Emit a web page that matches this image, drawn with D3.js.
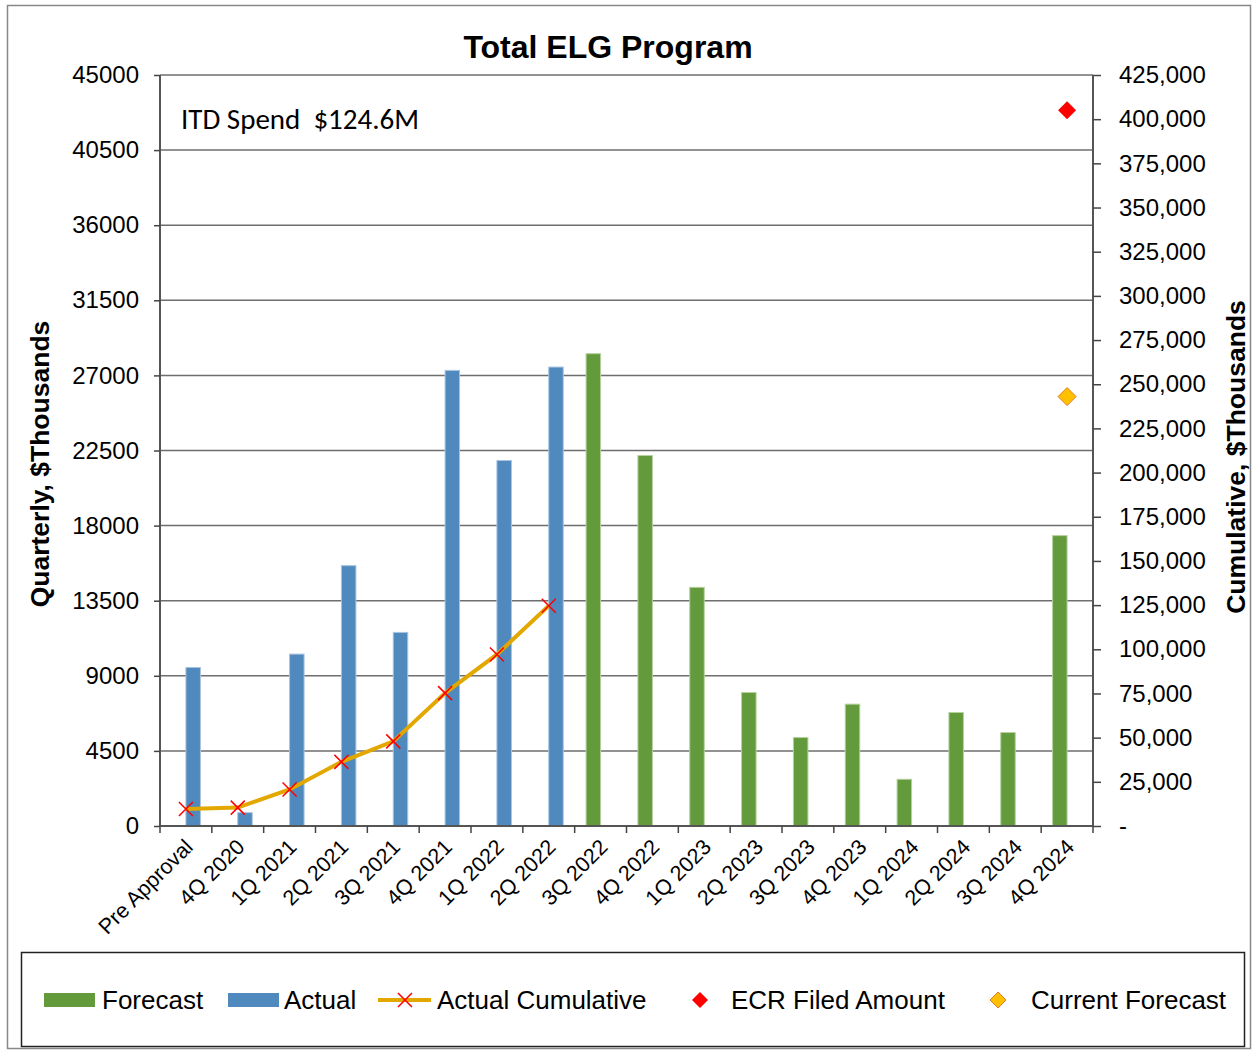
<!DOCTYPE html>
<html>
<head>
<meta charset="utf-8">
<script src="https://cdn.jsdelivr.net/npm/d3@7"></script>
<style>
  body { margin: 0; background: #fff; }
  text { font-family: Arial, "Liberation Sans", sans-serif; fill: #000; }
</style>
</head>
<body>
<script>
var width = 1252,
    height = 1050;

var categories = ['Pre Approval', '4Q 2020', '1Q 2021', '2Q 2021', '3Q 2021', '4Q 2021',
    '1Q 2022', '2Q 2022', '3Q 2022', '4Q 2022', '1Q 2023', '2Q 2023', '3Q 2023',
    '4Q 2023', '1Q 2024', '2Q 2024', '3Q 2024', '4Q 2024'];

// quarterly, $Thousands (null = no bar)
var actual = [9500, 800, 10300, 15600, 11600, 27300, 21900, 27500,
    null, null, null, null, null, null, null, null, null, null];
var forecast = [null, null, null, null, null, null, null, null,
    28300, 22200, 14300, 8000, 5300, 7300, 2800, 6800, 5600, 17400];

// cumulative, $Thousands
var actualCumulative = [9600, 10400, 20700, 36300, 47900, 75200, 97100, 124600];
var ecrFiled = [{ cat: '4Q 2024', value: 405000 }];
var currentForecast = [{ cat: '4Q 2024', value: 243000 }];

var leftTicks = [0, 4500, 9000, 13500, 18000, 22500, 27000, 31500, 36000, 40500, 45000];
var rightTicks = d3.range(0, 425001, 25000);

var plot = { left: 160, right: 1093, top: 75, bottom: 826 };

var svg = d3.select('body')
    .append('svg')
    .attr('width', width)
    .attr('height', height);

// outer frame
svg.append('rect')
    .attr('x', 7.5).attr('y', 5.5)
    .attr('width', 1243).attr('height', 1043)
    .attr('fill', 'none').attr('stroke', '#888').attr('stroke-width', 1.5);

var x = d3.scaleBand()
    .domain(categories)
    .range([plot.left, plot.right])
    .padding(0);

var yLeft = d3.scaleLinear().domain([0, 45000]).range([plot.bottom, plot.top]);
var yRight = d3.scaleLinear().domain([0, 425000]).range([plot.bottom, plot.top]);

// gridlines
svg.append('g')
    .selectAll('line')
    .data(leftTicks.slice(1))
    .enter()
    .append('line')
    .attr('x1', plot.left).attr('x2', plot.right)
    .attr('y1', function (d) { return yLeft(d); })
    .attr('y2', function (d) { return yLeft(d); })
    .attr('stroke', '#6e6e6e').attr('stroke-width', 1.5);

var barW = 14.5;

// forecast bars (left of centre)
svg.append('g')
    .selectAll('rect')
    .data(categories.map(function (c, i) { return { cat: c, v: forecast[i] }; })
        .filter(function (d) { return d.v != null; }))
    .enter()
    .append('rect')
    .attr('x', function (d) { return x(d.cat) + x.bandwidth() / 2 - barW; })
    .attr('y', function (d) { return yLeft(d.v); })
    .attr('width', barW)
    .attr('height', function (d) { return yLeft(0) - yLeft(d.v); })
    .attr('fill', '#629a3c')
    .attr('stroke', '#b5d19e').attr('stroke-width', 1);

// actual bars (right of centre)
svg.append('g')
    .selectAll('rect')
    .data(categories.map(function (c, i) { return { cat: c, v: actual[i] }; })
        .filter(function (d) { return d.v != null; }))
    .enter()
    .append('rect')
    .attr('x', function (d) { return x(d.cat) + x.bandwidth() / 2; })
    .attr('y', function (d) { return yLeft(d.v); })
    .attr('width', barW)
    .attr('height', function (d) { return yLeft(0) - yLeft(d.v); })
    .attr('fill', '#4f89be')
    .attr('stroke', '#a9c4e0').attr('stroke-width', 1);

// axes
var leftAxis = svg.append('g')
    .attr('transform', 'translate(' + plot.left + ',0)')
    .call(d3.axisLeft(yLeft).tickValues(leftTicks).tickSize(6).tickPadding(15)
        .tickFormat(d3.format('d')));
var rightAxis = svg.append('g')
    .attr('transform', 'translate(' + plot.right + ',0)')
    .call(d3.axisRight(yRight).tickValues(rightTicks).tickSize(8).tickPadding(18)
        .tickFormat(function (d) { return d === 0 ? '-' : d3.format(',')(d); }));
var bottomAxis = svg.append('g')
    .attr('transform', 'translate(0,' + plot.bottom + ')')
    .call(d3.axisBottom(x).tickSize(0).tickFormat(''));

[leftAxis, rightAxis, bottomAxis].forEach(function (g) {
    g.select('.domain').attr('stroke', '#555').attr('stroke-width', 2);
    g.selectAll('.tick line').attr('stroke', '#444').attr('stroke-width', 1.5);
    g.selectAll('.tick text')
        .style('font-family', 'Arial, "Liberation Sans", sans-serif')
        .style('font-size', '24px').attr('fill', '#000');
});
leftAxis.select('.domain').attr('d', 'M0,' + plot.top + 'V' + plot.bottom);
rightAxis.select('.domain').attr('d', 'M0,' + plot.top + 'V' + plot.bottom);
bottomAxis.select('.domain').attr('d', 'M' + plot.left + ',0H' + plot.right);

// category boundary ticks
bottomAxis.selectAll('.bound')
    .data(categories.concat(['end']))
    .enter()
    .append('line')
    .attr('x1', function (d, i) { return plot.left + i * x.bandwidth(); })
    .attr('x2', function (d, i) { return plot.left + i * x.bandwidth(); })
    .attr('y1', 0).attr('y2', 7)
    .attr('stroke', '#444').attr('stroke-width', 1.5);

// category labels
svg.append('g')
    .selectAll('text')
    .data(categories)
    .enter()
    .append('text')
    .attr('transform', function (d) {
        return 'translate(' + (x(d) + x.bandwidth() / 2 + 3) + ',' + (plot.bottom + 17) + ') rotate(-45)';
    })
    .attr('text-anchor', 'end')
    .attr('dy', '0.35em')
    .style('font-size', '21.5px')
    .text(function (d) { return d; });

// cumulative line
var lineData = actualCumulative.map(function (v, i) { return { cat: categories[i], v: v }; });
svg.append('path')
    .datum(lineData)
    .attr('fill', 'none')
    .attr('stroke', '#e3a800')
    .attr('stroke-width', 4)
    .attr('d', d3.line()
        .x(function (d) { return x(d.cat) + x.bandwidth() / 2; })
        .y(function (d) { return yRight(d.v); }));

var xMark = 'M-7,-7L7,7M-7,7L7,-7';
svg.append('g')
    .selectAll('path')
    .data(lineData)
    .enter()
    .append('path')
    .attr('transform', function (d) {
        return 'translate(' + (x(d.cat) + x.bandwidth() / 2) + ',' + yRight(d.v) + ')';
    })
    .attr('d', xMark)
    .attr('stroke', '#ff0000').attr('stroke-width', 1.5).attr('fill', 'none');

// diamonds
function diamondPath(s) {
    return 'M0,-' + s + 'L' + s + ',0L0,' + s + 'L-' + s + ',0Z';
}
svg.append('g')
    .selectAll('path')
    .data(ecrFiled)
    .enter()
    .append('path')
    .attr('transform', function (d) {
        return 'translate(' + (x(d.cat) + x.bandwidth() / 2) + ',' + yRight(d.value) + ')';
    })
    .attr('d', diamondPath(9))
    .attr('fill', '#ff0000');
svg.append('g')
    .selectAll('path')
    .data(currentForecast)
    .enter()
    .append('path')
    .attr('transform', function (d) {
        return 'translate(' + (x(d.cat) + x.bandwidth() / 2) + ',' + yRight(d.value) + ')';
    })
    .attr('d', diamondPath(9))
    .attr('fill', '#ffc000').attr('stroke', '#e07a1f').attr('stroke-width', 1);

// title and labels
svg.append('text')
    .attr('x', 608).attr('y', 58)
    .attr('text-anchor', 'middle')
    .style('font-size', '32px').style('font-weight', 'bold')
    .text('Total ELG Program');

svg.append('text')
    .attr('x', 181).attr('y', 129)
    .style('font-family', 'Carlito, Lato, "Open Sans", sans-serif')
    .style('font-size', '29px')
    .attr('xml:space', 'preserve')
    .text('ITD Spend  $124.6M');

svg.append('text')
    .attr('transform', 'translate(49,464) rotate(-90)')
    .attr('text-anchor', 'middle')
    .style('font-size', '26.5px').style('font-weight', 'bold')
    .text('Quarterly, $Thousands');

svg.append('text')
    .attr('transform', 'translate(1245,457) rotate(-90)')
    .attr('text-anchor', 'middle')
    .style('font-size', '26.5px').style('font-weight', 'bold')
    .text('Cumulative, $Thousands');

// legend
svg.append('rect')
    .attr('x', 21.5).attr('y', 952.5)
    .attr('width', 1223).attr('height', 94)
    .attr('fill', 'none').attr('stroke', '#222').attr('stroke-width', 1.5);

var legend = svg.append('g');
var ly = 1000;
legend.append('rect').attr('x', 44).attr('y', ly - 7).attr('width', 51).attr('height', 14).attr('fill', '#629a3c');
legend.append('rect').attr('x', 228).attr('y', ly - 7).attr('width', 51).attr('height', 14).attr('fill', '#4f89be');
legend.append('line').attr('x1', 378).attr('x2', 431).attr('y1', ly).attr('y2', ly)
    .attr('stroke', '#e3a800').attr('stroke-width', 4);
legend.append('path').attr('transform', 'translate(405,' + ly + ')').attr('d', xMark)
    .attr('stroke', '#ff0000').attr('stroke-width', 1.5);
legend.append('path').attr('transform', 'translate(700,' + ly + ')').attr('d', diamondPath(8))
    .attr('fill', '#ff0000');
legend.append('path').attr('transform', 'translate(998,' + ly + ')').attr('d', diamondPath(8))
    .attr('fill', '#ffc000').attr('stroke', '#e07a1f').attr('stroke-width', 1);

var legendText = [
    { x: 102, t: 'Forecast' },
    { x: 284, t: 'Actual' },
    { x: 437, t: 'Actual Cumulative' },
    { x: 731, t: 'ECR Filed Amount' },
    { x: 1031, t: 'Current Forecast' }
];
legend.selectAll('text.lg')
    .data(legendText)
    .enter()
    .append('text')
    .attr('class', 'lg')
    .attr('x', function (d) { return d.x; })
    .attr('y', ly + 9)
    .style('font-size', '26px')
    .text(function (d) { return d.t; });
</script>
</body>
</html>
